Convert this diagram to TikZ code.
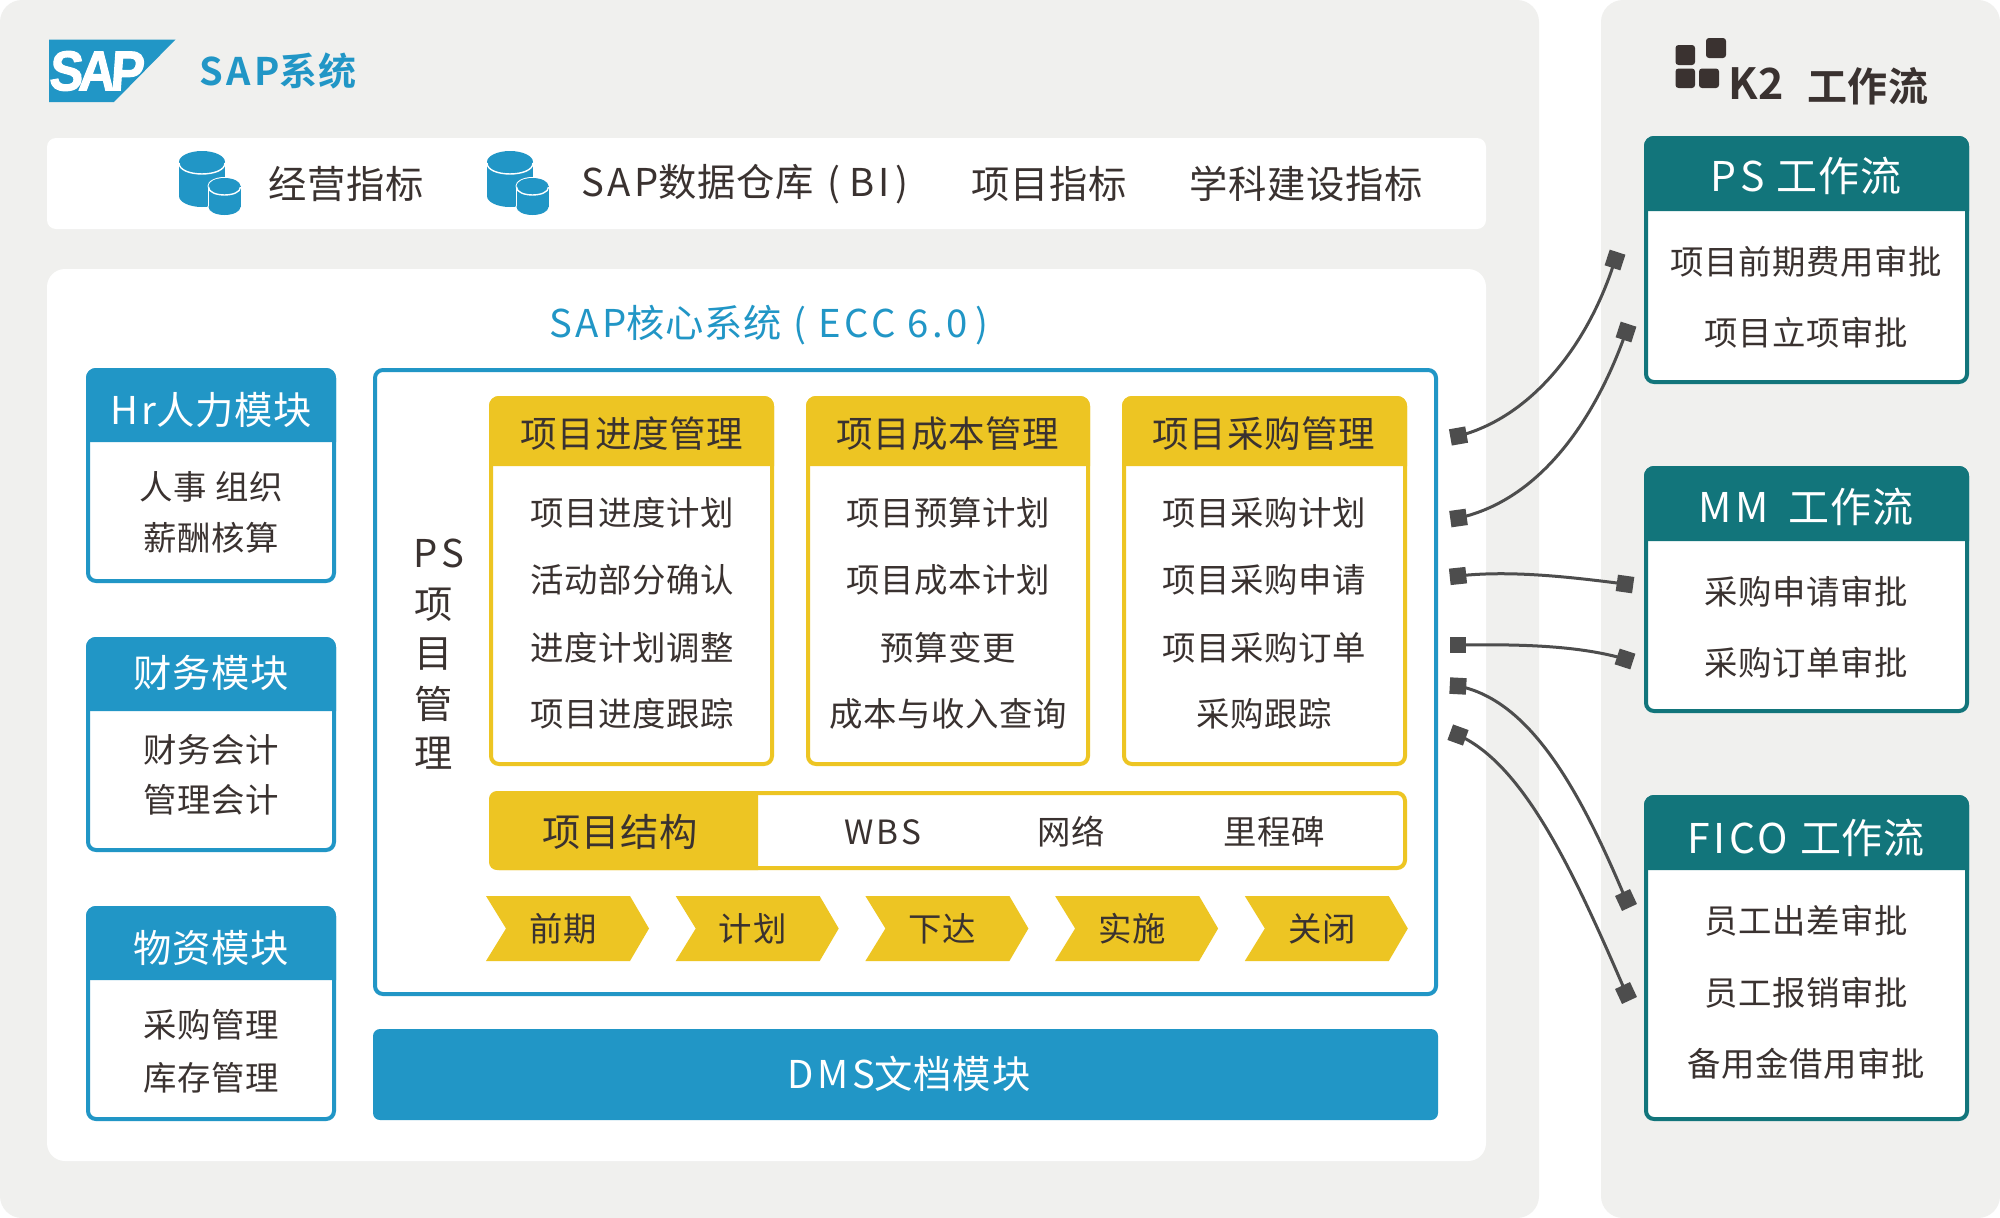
\documentclass[tikz,border=0pt]{standalone}
\usepackage{fontspec}
\setmainfont[LetterSpace=2,BoldFont={Noto Sans CJK SC Bold}]{Noto Sans CJK SC}
\newfontfamily\ltn[LetterSpace=9,BoldFont={Noto Sans CJK SC Bold}]{Noto Sans CJK SC}
\newfontfamily\logofont[FakeBold=2,FakeSlant=0.08]{Liberation Sans Bold}
\definecolor{panel}{HTML}{F0F0EE}
\definecolor{sapblue}{HTML}{2196C6}
\definecolor{gold}{HTML}{EDC523}
\definecolor{teal2}{HTML}{12757B}
\definecolor{ink}{HTML}{3A3230}
\definecolor{wire}{HTML}{4D4D4D}
\newcommand\fs[1]{\fontsize{#1}{#1}\selectfont}
\tikzset{
  txt/.style={inner sep=0pt,text=ink,font=\fs{33.4}},
  ttl/.style={inner sep=0pt,text=ink,font=\fs{36.5}},
  wttl/.style={inner sep=0pt,text=white,font=\fs{38.3}},
  flowttl/.style={inner sep=0pt,text=white,font=\fs{41}},
  barttl/.style={inner sep=0pt,text=ink,font=\fs{38.3}},
  sqend/.style={fill=wire,inner sep=0pt,minimum size=16.5pt,rotate=#1},
  wirel/.style={draw=wire,line width=3pt},
}
% name x1 y1 x2 y2 yheader colour
\newcommand\modbox[7]{%
  \draw[#7,line width=4pt,fill=white,rounded corners=8pt] (#2+2,#3+2) rectangle (#4-2,#5-2);
  \fill[#7] (#2,#6) [rounded corners=10pt] -- (#2,#3) -- (#4,#3) [sharp corners] -- (#4,#6) -- cycle;
  \coordinate (#1) at (#2,#3);
}
\newcommand\chev[3]{% name x text
  \fill[gold] (#2,896) -- (#2+144,896) -- (#2+163,928.5) -- (#2+144,961) -- (#2,961) -- (#2+20,928.5) -- cycle;
  \node[txt] (#1) at (#2+77,929) {#3};
}
\newcommand\cyl[5]{% cx top rx ry height
  \fill[white] (#1-#3-1,#2+#4) rectangle (#1+#3+1,#2+#4+#5);
  \fill[white] (#1,#2+#4) ellipse[x radius=#3+1,y radius=#4+1];
  \fill[white] (#1,#2+#4+#5) ellipse[x radius=#3+1,y radius=#4+1];
  \fill[sapblue] (#1-#3,#2+#4) rectangle (#1+#3,#2+#4+#5);
  \fill[sapblue] (#1,#2+#4) ellipse[x radius=#3,y radius=#4];
  \fill[sapblue] (#1,#2+#4+#5) ellipse[x radius=#3,y radius=#4];
  \draw[white,line width=1.4pt] (#1-#3,#2+#4+1) .. controls (#1-#3,#2+#4+1+1.33*#4) and (#1+#3,#2+#4+1+1.33*#4) .. (#1+#3,#2+#4+1);
}
\newcommand\dbicon[1]{%
  \begin{scope}[shift={(#1,0)}]
   \cyl{202}{151}{23}{11}{34}
   \cyl{224.5}{178}{16}{8}{21}
  \end{scope}
}
\begin{document}
\begin{tikzpicture}[x=1pt,y=-1pt]
\useasboundingbox (0,0) rectangle (2000,1218);
\fill[white] (0,0) rectangle (2000,1218);
% panels
\fill[panel,rounded corners=22pt] (0,0) rectangle (1539,1218);
\fill[panel,rounded corners=22pt] (1601,0) rectangle (2000,1218);
\fill[white,rounded corners=9pt] (47,138) rectangle (1486,229);
\fill[white,rounded corners=18pt] (47,269) rectangle (1486,1161);
% SAP logo
\fill[sapblue] (49,39.5) -- (175.5,39.5) -- (114,102) -- (49,102) -- cycle;
\node[inner sep=0pt,text=white,font=\logofont\fs{56}] (saplogo) at (96,71) {\scalebox{0.9}[1]{S\kern-5pt A\kern-5pt P}};
\node[inner sep=0pt,text=sapblue,font=\bfseries\fs{38}] (saptitle) at (278,71) {{\ltn\bfseries SAP}系统};
% K2 logo
\fill[ink,rounded corners=3pt] (1675.5,45) rectangle (1695,65);
\fill[ink,rounded corners=3pt] (1706,38) rectangle (1726,58);
\fill[ink,rounded corners=3pt] (1675.5,68.5) rectangle (1695,88);
\fill[ink,rounded corners=3pt] (1699,68.5) rectangle (1719,88);
\node[inner sep=0pt,text=ink,font=\bfseries\fs{43}] (k2) at (1756,84) {K2};
\node[inner sep=0pt,text=ink,font=\bfseries\fs{40}] (k2flow) at (1868,86) {工作流};
% indicator bar
\dbicon{0}
\dbicon{308}
\node[barttl] (b1) at (346,184) {经营指标};
\node[barttl] (b2) at (745,184) {{\ltn SAP}数据仓库\hspace{13pt}(\hspace{10pt}{\ltn BI}\hspace{6pt})};
\node[barttl] (b3) at (1049,184) {项目指标};
\node[barttl] (b4) at (1306,184) {学科建设指标};
\node[barttl,text=sapblue] (core) at (769,325) {{\ltn SAP}核心系统\hspace{12pt}(\hspace{12pt}{\ltn ECC 6.0}\hspace{8pt})};
% left modules
\modbox{mhr}{86}{368}{336}{583}{442}{sapblue}
\node[wttl] (hrt) at (211,410) {{\ltn Hr}人力模块};
\node[txt] (hr1) at (211,487) {人事 组织};
\node[txt] (hr2) at (211,538) {薪酬核算};
\modbox{mfi}{86}{637}{336}{852}{711}{sapblue}
\node[wttl] (fit) at (211,673) {财务模块};
\node[txt] (fi1) at (211,750) {财务会计};
\node[txt] (fi2) at (211,800) {管理会计};
\modbox{mma}{86}{906}{336}{1121}{980}{sapblue}
\node[wttl] (mat) at (211,948) {物资模块};
\node[txt] (ma1) at (211,1025) {采购管理};
\node[txt] (ma2) at (211,1078) {库存管理};
% PS frame
\draw[sapblue,line width=4pt,fill=white,rounded corners=8pt] (375,370) rectangle (1436,994);
\node[barttl] (psl) at (439,553) {\ltn PS};
\node[barttl] (ps1) at (434,605) {项};
\node[barttl] (ps2) at (434,654) {目};
\node[barttl] (ps3) at (434,704) {管};
\node[barttl] (ps4) at (434,753) {理};
% yellow boxes
\modbox{y1}{489}{396}{774}{766}{466}{gold}
\node[ttl] (y1t) at (632,433.5) {项目进度管理};
\node[txt] (y11) at (632,513) {项目进度计划};
\node[txt] (y12) at (632,580) {活动部分确认};
\node[txt] (y13) at (632,648) {进度计划调整};
\node[txt] (y14) at (632,714) {项目进度跟踪};
\modbox{y2}{806}{396}{1090}{766}{466}{gold}
\node[ttl] (y2t) at (948,433.5) {项目成本管理};
\node[txt] (y21) at (948,513) {项目预算计划};
\node[txt] (y22) at (948,580) {项目成本计划};
\node[txt] (y23) at (948,648) {预算变更};
\node[txt] (y24) at (948,714) {成本与收入查询};
\modbox{y3}{1122}{396}{1407}{766}{466}{gold}
\node[ttl] (y3t) at (1264,433.5) {项目采购管理};
\node[txt] (y31) at (1264,513) {项目采购计划};
\node[txt] (y32) at (1264,580) {项目采购申请};
\node[txt] (y33) at (1264,648) {项目采购订单};
\node[txt] (y34) at (1264,714) {采购跟踪};
% structure bar
\draw[gold,line width=4pt,fill=white,rounded corners=8pt] (491,793) rectangle (1405,868);
\fill[gold] (758,791) -- (758,870) [rounded corners=8pt] -- (489,870) -- (489,791) [sharp corners] -- cycle;
\node[barttl] (st) at (620,832) {项目结构};
\node[txt] (st1) at (883,832) {\ltn WBS};
\node[txt] (st2) at (1071,832) {网络};
\node[txt] (st3) at (1274,832) {里程碑};
% chevrons
\chev{c1}{486}{前期}
\chev{c2}{675.7}{计划}
\chev{c3}{865.4}{下达}
\chev{c4}{1055.1}{实施}
\chev{c5}{1244.8}{关闭}
% DMS
\fill[sapblue,rounded corners=7pt] (373,1029) rectangle (1438,1120);
\node[wttl] (dms) at (909,1074) {{\ltn DMS}文档模块};
% workflow boxes
\modbox{wps}{1644}{136}{1969}{384}{211}{teal2}
\node[flowttl] (wpst) at (1806,176) {{\ltn PS}\hspace{12pt}工作流};
\node[txt] (wp1) at (1806,261.5) {项目前期费用审批};
\node[txt] (wp2) at (1806,333) {项目立项审批};
\modbox{wmm}{1644}{466}{1969}{713}{541}{teal2}
\node[flowttl] (wmmt) at (1806,507) {{\ltn MM}\hspace{20pt}工作流};
\node[txt] (wm1) at (1806,592) {采购申请审批};
\node[txt] (wm2) at (1806,663) {采购订单审批};
\modbox{wfi}{1644}{795}{1969}{1121}{870}{teal2}
\node[flowttl] (wfit) at (1806,838) {{\ltn FICO}\hspace{12pt}工作流};
\node[txt] (wf1) at (1806,921) {员工出差审批};
\node[txt] (wf2) at (1806,993) {员工报销审批};
\node[txt] (wf3) at (1806,1064) {备用金借用审批};
% connector ends
\node[sqend=10] (a1) at (1458.5,436) {};
\node[sqend=-18] (b1e) at (1615,260) {};
\node[sqend=8] (a2) at (1458.5,518) {};
\node[sqend=-18] (b2e) at (1626,332) {};
\node[sqend=6] (a3) at (1458,576) {};
\node[sqend=-8] (b3e) at (1625,584) {};
\node[sqend=0] (a4) at (1458,645) {};
\node[sqend=-18] (b4e) at (1625,659) {};
\node[sqend=-3] (a5) at (1458,686) {};
\node[sqend=25] (b5e) at (1626,900) {};
\node[sqend=-20] (a6) at (1458,735) {};
\node[sqend=25] (b6e) at (1626,993) {};
% connectors
\draw[wirel] (a1.center) .. controls (1535,416) and (1590,340) .. (b1e.center);
\draw[wirel] (a2.center) .. controls (1540,500) and (1595,420) .. (b2e.center);
\draw[wirel] (a3.center) .. controls (1510,570) and (1570,577) .. (b3e.center);
\draw[wirel] (a4.center) .. controls (1525,644) and (1580,646) .. (b4e.center);
\draw[wirel] (a5.center) .. controls (1530,700) and (1580,790) .. (b5e.center);
\draw[wirel] (a6.center) .. controls (1525,765) and (1575,875) .. (b6e.center);
\end{tikzpicture}
\end{document}
